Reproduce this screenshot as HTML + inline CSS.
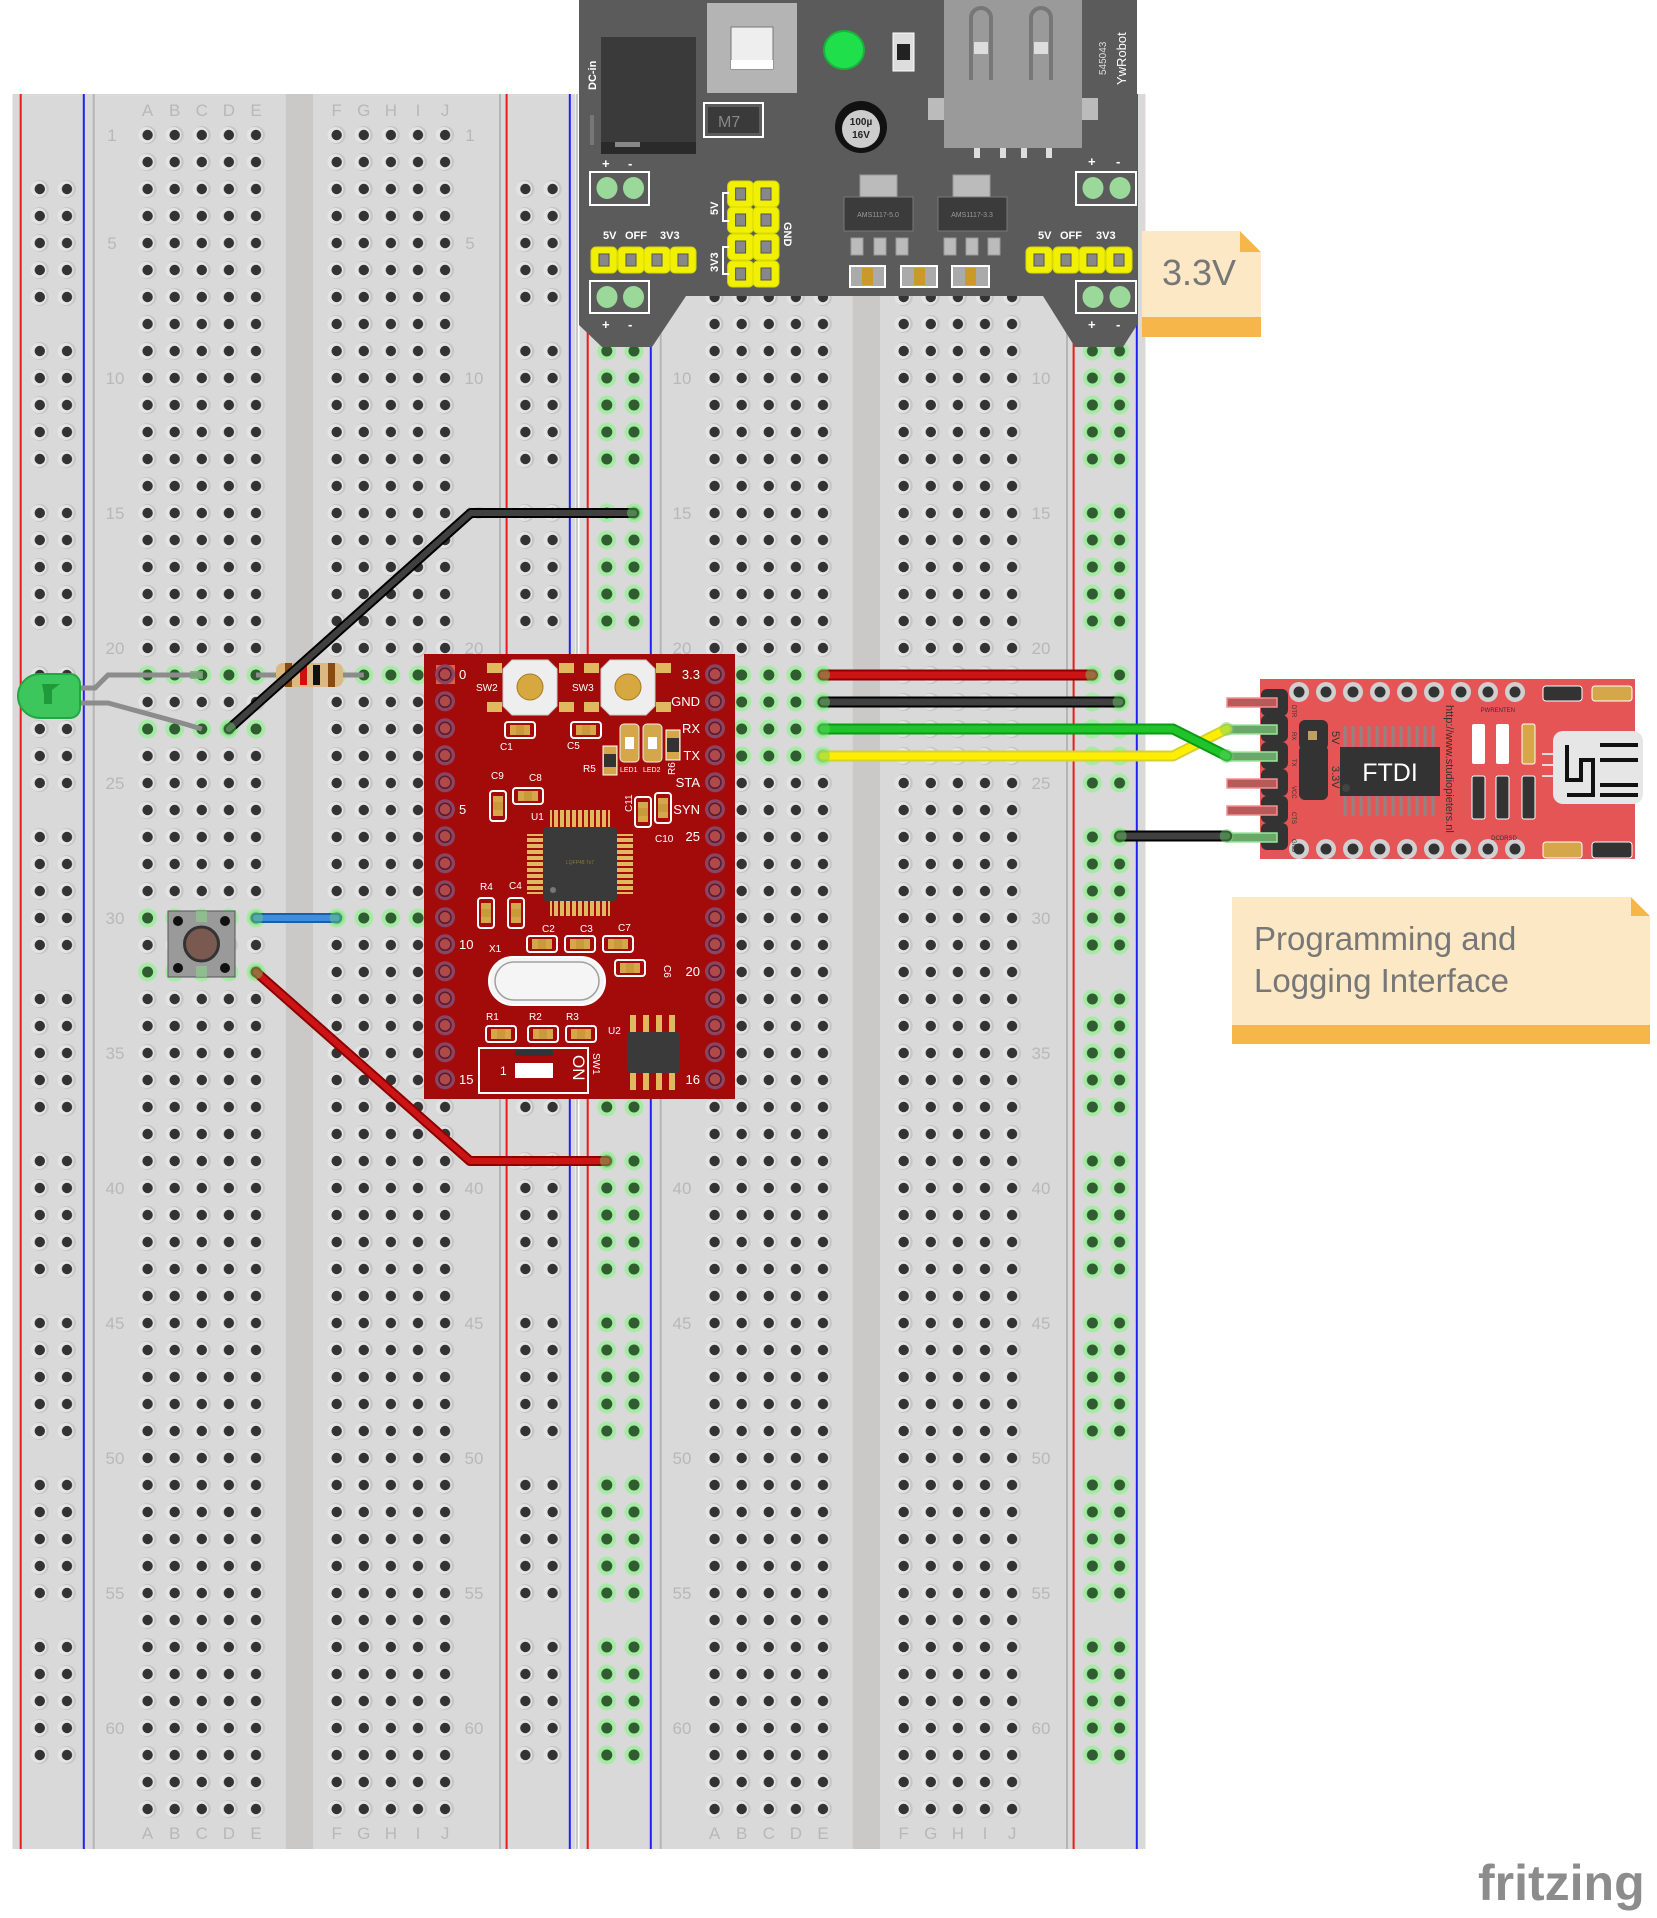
<!DOCTYPE html>
<html><head><meta charset="utf-8"><style>
html,body{margin:0;padding:0;background:#fff;width:1657px;height:1918px;overflow:hidden}
svg{display:block}
text{font-family:"Liberation Sans",sans-serif}
</style></head><body>
<svg width="1657" height="1918" viewBox="0 0 1657 1918" xmlns="http://www.w3.org/2000/svg">
<defs>
<g id="hole"><circle r="9" fill="#c6c6c6"/><circle cx="-1.3" r="8" fill="#e4e4e4"/><circle r="5.2" fill="#333"/></g>
<g id="ghole"><circle r="9.5" fill="#a6eaa6"/><circle r="5.5" fill="#2f5d2f"/></g>
<pattern id="pA1" width="27.1" height="27" patternUnits="userSpaceOnUse" x="134.05" y="121.5"><use href="#hole" x="13.55" y="13.5"/></pattern>
<pattern id="pF1" width="27.1" height="27" patternUnits="userSpaceOnUse" x="323.15" y="121.5"><use href="#hole" x="13.55" y="13.5"/></pattern>
<pattern id="pA2" width="27.1" height="27" patternUnits="userSpaceOnUse" x="701.05" y="121.5"><use href="#hole" x="13.55" y="13.5"/></pattern>
<pattern id="pF2" width="27.1" height="27" patternUnits="userSpaceOnUse" x="890.15" y="121.5"><use href="#hole" x="13.55" y="13.5"/></pattern>
<pattern id="rL1" width="27.2" height="162" patternUnits="userSpaceOnUse" x="26.2" y="175.5"><use href="#hole" x="13.6" y="13.5"/><use href="#hole" x="13.6" y="40.5"/><use href="#hole" x="13.6" y="67.5"/><use href="#hole" x="13.6" y="94.5"/><use href="#hole" x="13.6" y="121.5"/></pattern>
<pattern id="rR1" width="27.2" height="162" patternUnits="userSpaceOnUse" x="511.8" y="175.5"><use href="#hole" x="13.6" y="13.5"/><use href="#hole" x="13.6" y="40.5"/><use href="#hole" x="13.6" y="67.5"/><use href="#hole" x="13.6" y="94.5"/><use href="#hole" x="13.6" y="121.5"/></pattern>
<pattern id="rL2" width="27.2" height="162" patternUnits="userSpaceOnUse" x="593.2" y="175.5"><use href="#ghole" x="13.6" y="13.5"/><use href="#ghole" x="13.6" y="40.5"/><use href="#ghole" x="13.6" y="67.5"/><use href="#ghole" x="13.6" y="94.5"/><use href="#ghole" x="13.6" y="121.5"/></pattern>
<pattern id="rR2" width="27.2" height="162" patternUnits="userSpaceOnUse" x="1078.8" y="175.5"><use href="#ghole" x="13.6" y="13.5"/><use href="#ghole" x="13.6" y="40.5"/><use href="#ghole" x="13.6" y="67.5"/><use href="#ghole" x="13.6" y="94.5"/><use href="#ghole" x="13.6" y="121.5"/></pattern>
<g id="pad"><circle r="10" fill="#8a4565"/><circle r="6" fill="#b04a4a" stroke="#5a1a2a" stroke-width="1.5"/></g>
<g id="ypin"><rect x="-13" y="-13" width="26" height="26" rx="5" fill="#f0f000" stroke="#d8d800"/><rect x="-5" y="-6" width="10" height="12" fill="#888" stroke="#555"/></g>
<g id="fh"><circle r="10" fill="#d0d0d0"/><circle r="5.5" fill="#333"/></g>
<g id="smd"><rect x="-15" y="-8" width="30" height="16" rx="3" fill="none" stroke="#fff" stroke-width="2"/><rect x="-10" y="-5" width="20" height="10" fill="#d4a84a"/><rect x="-4" y="-5" width="8" height="10" fill="#c99a3a"/></g>
</defs>

<!-- Breadboard 1 -->
<rect x="12.5" y="94" width="563" height="1755" fill="#d9d9d9"/>
<rect x="285.8" y="94" width="27.2" height="1755" fill="#cac9c7"/>
<line x1="93.7" y1="94" x2="93.7" y2="1849" stroke="#b5b5b5" stroke-width="2"/>
<line x1="500" y1="94" x2="500" y2="1849" stroke="#b5b5b5" stroke-width="2"/>
<line x1="20.7" y1="94" x2="20.7" y2="1849" stroke="#f01818" stroke-width="2"/>
<line x1="83.8" y1="94" x2="83.8" y2="1849" stroke="#2020f0" stroke-width="2"/>
<line x1="506.6" y1="94" x2="506.6" y2="1849" stroke="#f01818" stroke-width="2"/>
<line x1="569.8" y1="94" x2="569.8" y2="1849" stroke="#2020f0" stroke-width="2"/>
<rect x="134" y="121.5" width="135.5" height="1701" fill="url(#pA1)"/>
<rect x="323.1" y="121.5" width="135.5" height="1701" fill="url(#pF1)"/>
<rect x="26.2" y="175.5" width="54.4" height="1620" fill="url(#rL1)"/>
<rect x="511.8" y="175.5" width="54.4" height="1620" fill="url(#rR1)"/>

<!-- Breadboard 2 -->
<rect x="579.5" y="94" width="566" height="1755" fill="#d9d9d9"/>
<line x1="577" y1="94" x2="577" y2="1849" stroke="#c8c8c8" stroke-width="2"/>
<rect x="852.8" y="94" width="27.2" height="1755" fill="#cac9c7"/>
<line x1="660.7" y1="94" x2="660.7" y2="1849" stroke="#b5b5b5" stroke-width="2"/>
<line x1="1067" y1="94" x2="1067" y2="1849" stroke="#b5b5b5" stroke-width="2"/>
<line x1="587.7" y1="94" x2="587.7" y2="1849" stroke="#f01818" stroke-width="2"/>
<line x1="650.8" y1="94" x2="650.8" y2="1849" stroke="#2020f0" stroke-width="2"/>
<line x1="1073.6" y1="94" x2="1073.6" y2="1849" stroke="#f01818" stroke-width="2"/>
<line x1="1136.8" y1="94" x2="1136.8" y2="1849" stroke="#2020f0" stroke-width="2"/>
<rect x="701" y="121.5" width="135.5" height="1701" fill="url(#pA2)"/>
<rect x="890.1" y="121.5" width="135.5" height="1701" fill="url(#pF2)"/>
<rect x="593.2" y="175.5" width="54.4" height="1620" fill="url(#rL2)"/>
<rect x="1078.8" y="175.5" width="54.4" height="1620" fill="url(#rR2)"/>

<!-- labels -->
<g fill="#b8b8b8" font-size="17" text-anchor="middle">
<text x="147.6" y="116">A</text><text x="174.7" y="116">B</text><text x="201.8" y="116">C</text><text x="228.9" y="116">D</text><text x="256" y="116">E</text>
<text x="336.7" y="116">F</text><text x="363.8" y="116">G</text><text x="390.9" y="116">H</text><text x="418" y="116">I</text><text x="445.1" y="116">J</text>
<text x="147.6" y="1839">A</text><text x="174.7" y="1839">B</text><text x="201.8" y="1839">C</text><text x="228.9" y="1839">D</text><text x="256" y="1839">E</text>
<text x="336.7" y="1839">F</text><text x="363.8" y="1839">G</text><text x="390.9" y="1839">H</text><text x="418" y="1839">I</text><text x="445.1" y="1839">J</text>
<text x="714.6" y="1839">A</text><text x="741.7" y="1839">B</text><text x="768.8" y="1839">C</text><text x="795.9" y="1839">D</text><text x="823" y="1839">E</text>
<text x="903.7" y="1839">F</text><text x="930.8" y="1839">G</text><text x="957.9" y="1839">H</text><text x="985" y="1839">I</text><text x="1012.1" y="1839">J</text>
<text x="112" y="141">1</text><text x="112" y="249">5</text><text x="115" y="384">10</text><text x="115" y="519">15</text><text x="115" y="654">20</text><text x="115" y="789">25</text><text x="115" y="924">30</text><text x="115" y="1059">35</text><text x="115" y="1194">40</text><text x="115" y="1329">45</text><text x="115" y="1464">50</text><text x="115" y="1599">55</text><text x="115" y="1734">60</text>
<text x="470" y="141">1</text><text x="470" y="249">5</text><text x="474" y="384">10</text><text x="474" y="519">15</text><text x="474" y="654">20</text><text x="474" y="789">25</text><text x="474" y="924">30</text><text x="474" y="1059">35</text><text x="474" y="1194">40</text><text x="474" y="1329">45</text><text x="474" y="1464">50</text><text x="474" y="1599">55</text><text x="474" y="1734">60</text>
<text x="682" y="384">10</text><text x="682" y="519">15</text><text x="682" y="654">20</text><text x="682" y="789">25</text><text x="682" y="924">30</text><text x="682" y="1059">35</text><text x="682" y="1194">40</text><text x="682" y="1329">45</text><text x="682" y="1464">50</text><text x="682" y="1599">55</text><text x="682" y="1734">60</text>
<text x="1041" y="384">10</text><text x="1041" y="519">15</text><text x="1041" y="654">20</text><text x="1041" y="789">25</text><text x="1041" y="924">30</text><text x="1041" y="1059">35</text><text x="1041" y="1194">40</text><text x="1041" y="1329">45</text><text x="1041" y="1464">50</text><text x="1041" y="1599">55</text><text x="1041" y="1734">60</text>
</g>

<!-- green highlighted holes -->
<g>
<use href="#ghole" x="147.6" y="675"/><use href="#ghole" x="174.7" y="675"/><use href="#ghole" x="201.8" y="675"/><use href="#ghole" x="228.9" y="675"/><use href="#ghole" x="256" y="675"/>
<use href="#ghole" x="336.7" y="675"/><use href="#ghole" x="363.8" y="675"/><use href="#ghole" x="390.9" y="675"/><use href="#ghole" x="418" y="675"/>
<use href="#ghole" x="147.6" y="729"/><use href="#ghole" x="174.7" y="729"/><use href="#ghole" x="201.8" y="729"/><use href="#ghole" x="228.9" y="729"/><use href="#ghole" x="256" y="729"/>
<use href="#ghole" x="147.6" y="918"/><use href="#ghole" x="174.7" y="918"/><use href="#ghole" x="201.8" y="918"/><use href="#ghole" x="228.9" y="918"/><use href="#ghole" x="256" y="918"/>
<use href="#ghole" x="336.7" y="918"/><use href="#ghole" x="363.8" y="918"/><use href="#ghole" x="390.9" y="918"/><use href="#ghole" x="418" y="918"/>
<use href="#ghole" x="147.6" y="972"/><use href="#ghole" x="174.7" y="972"/><use href="#ghole" x="201.8" y="972"/><use href="#ghole" x="228.9" y="972"/><use href="#ghole" x="256" y="972"/>
<use href="#ghole" x="741.7" y="675"/><use href="#ghole" x="768.8" y="675"/><use href="#ghole" x="795.9" y="675"/><use href="#ghole" x="823" y="675"/>
<use href="#ghole" x="741.7" y="702"/><use href="#ghole" x="768.8" y="702"/><use href="#ghole" x="795.9" y="702"/><use href="#ghole" x="823" y="702"/>
<use href="#ghole" x="741.7" y="729"/><use href="#ghole" x="768.8" y="729"/><use href="#ghole" x="795.9" y="729"/><use href="#ghole" x="823" y="729"/>
<use href="#ghole" x="741.7" y="756"/><use href="#ghole" x="768.8" y="756"/><use href="#ghole" x="795.9" y="756"/><use href="#ghole" x="823" y="756"/>
</g>

<!-- Power module -->
<polygon points="579,0 1137,0 1137,325 1123,347 1075,347 1043,296 686,296 652,347 602,347 579,325" fill="#5b5b5b"/>
<rect x="601" y="37" width="95" height="117" fill="#3a3a3a"/>
<rect x="601" y="142" width="95" height="12" fill="#2a2a2a"/>
<rect x="615" y="142" width="25" height="5" fill="#888"/>
<rect x="590" y="115" width="4" height="30" fill="#777"/>
<text x="0" y="0" transform="translate(596,90) rotate(-90)" fill="#fff" font-size="11" font-weight="bold">DC-in</text>
<rect x="707" y="3" width="90" height="90" fill="#b4b4b4"/>
<rect x="731" y="27" width="42" height="42" fill="#eee" stroke="#777"/>
<rect x="731" y="60" width="42" height="9" fill="#fff"/>
<rect x="704" y="103" width="59" height="34" fill="none" stroke="#fff" stroke-width="2"/>
<rect x="708" y="107" width="51" height="26" fill="#3a3a3a"/>
<text x="718" y="127" fill="#888" font-size="16">M7</text>
<ellipse cx="844" cy="50" rx="20" ry="19" fill="#1fe04a" stroke="#19b23a" stroke-width="2"/>
<rect x="893" y="33" width="21" height="38" fill="#ddd" stroke="#fff"/>
<rect x="897" y="44" width="13" height="16" fill="#222"/>
<circle cx="861" cy="127" r="26" fill="#111"/>
<circle cx="861" cy="129" r="19" fill="#ccc"/>
<text x="861" y="125" fill="#222" font-size="10" text-anchor="middle" font-weight="bold">100µ</text>
<text x="861" y="138" fill="#222" font-size="10" text-anchor="middle" font-weight="bold">16V</text>
<rect x="944" y="0" width="138" height="148" fill="#9a9a9a"/>
<rect x="928" y="98" width="16" height="22" fill="#bbb"/><rect x="1082" y="98" width="16" height="22" fill="#bbb"/>
<path d="M971 80 V18 a10 10 0 0 1 20 0 V80" fill="none" stroke="#777" stroke-width="4"/>
<path d="M1031 80 V18 a10 10 0 0 1 20 0 V80" fill="none" stroke="#777" stroke-width="4"/>
<rect x="974" y="42" width="14" height="12" fill="#ddd"/><rect x="1034" y="42" width="14" height="12" fill="#ddd"/>
<rect x="974" y="148" width="6" height="10" fill="#ddd"/><rect x="1000" y="148" width="6" height="10" fill="#ddd"/><rect x="1021" y="148" width="6" height="10" fill="#ddd"/><rect x="1046" y="148" width="6" height="10" fill="#ddd"/>
<text transform="translate(1106,75) rotate(-90)" fill="#ddd" font-size="10">545043</text>
<text transform="translate(1126,85) rotate(-90)" fill="#fff" font-size="13">YwRobot</text>
<g fill="#fff" font-size="13" font-weight="bold">
<text x="602" y="168">+</text><text x="628" y="168">-</text>
<text x="602" y="329">+</text><text x="628" y="329">-</text>
<text x="1088" y="166">+</text><text x="1116" y="166">-</text>
<text x="1088" y="329">+</text><text x="1116" y="329">-</text>
</g>
<g fill="none" stroke="#fff" stroke-width="2">
<rect x="590" y="172" width="59" height="33"/><rect x="590" y="281" width="59" height="32"/>
<rect x="1076" y="172" width="60" height="33"/><rect x="1076" y="281" width="60" height="32"/>
</g>
<g fill="#9bd99b">
<ellipse cx="607" cy="188" rx="10.5" ry="11"/><ellipse cx="633.5" cy="188" rx="10.5" ry="11"/>
<ellipse cx="607" cy="297" rx="10.5" ry="11"/><ellipse cx="633.5" cy="297" rx="10.5" ry="11"/>
<ellipse cx="1093" cy="188" rx="10.5" ry="11"/><ellipse cx="1120" cy="188" rx="10.5" ry="11"/>
<ellipse cx="1093" cy="297" rx="10.5" ry="11"/><ellipse cx="1120" cy="297" rx="10.5" ry="11"/>
</g>
<g fill="#fff" font-size="11" font-weight="bold">
<text x="603" y="239">5V</text><text x="625" y="239">OFF</text><text x="660" y="239">3V3</text>
<text x="1038" y="239">5V</text><text x="1060" y="239">OFF</text><text x="1096" y="239">3V3</text>
</g>
<use href="#ypin" x="604" y="260"/><use href="#ypin" x="631" y="260"/><use href="#ypin" x="657" y="260"/><use href="#ypin" x="683" y="260"/>
<use href="#ypin" x="1039" y="260"/><use href="#ypin" x="1066" y="260"/><use href="#ypin" x="1092" y="260"/><use href="#ypin" x="1119" y="260"/>
<use href="#ypin" x="740.6" y="194"/><use href="#ypin" x="766" y="194"/><use href="#ypin" x="740.6" y="220"/><use href="#ypin" x="766" y="220"/>
<use href="#ypin" x="740.6" y="247"/><use href="#ypin" x="766" y="247"/><use href="#ypin" x="740.6" y="274"/><use href="#ypin" x="766" y="274"/>
<path d="M729 193 H723 V221 H729 M729 247 H723 V274 H729" fill="none" stroke="#fff" stroke-width="2"/>
<text transform="translate(718,215) rotate(-90)" fill="#fff" font-size="11" font-weight="bold">5V</text>
<text transform="translate(718,272) rotate(-90)" fill="#fff" font-size="11" font-weight="bold">3V3</text>
<text transform="translate(784,222) rotate(90)" fill="#fff" font-size="11" font-weight="bold">GND</text>
<g>
<rect x="860" y="175" width="37" height="22" fill="#bbb" stroke="#999"/><rect x="844" y="197" width="69" height="34" fill="#3b3b3b" stroke="#777"/>
<text x="878" y="217" fill="#999" font-size="7" text-anchor="middle">AMS1117-5.0</text>
<rect x="851" y="238" width="12" height="17" fill="#bbb" stroke="#999"/><rect x="874" y="238" width="12" height="17" fill="#bbb" stroke="#999"/><rect x="896" y="238" width="12" height="17" fill="#bbb" stroke="#999"/>
<rect x="953" y="175" width="37" height="22" fill="#bbb" stroke="#999"/><rect x="938" y="197" width="69" height="34" fill="#3b3b3b" stroke="#777"/>
<text x="972" y="217" fill="#999" font-size="7" text-anchor="middle">AMS1117-3.3</text>
<rect x="944" y="238" width="12" height="17" fill="#bbb" stroke="#999"/><rect x="966" y="238" width="12" height="17" fill="#bbb" stroke="#999"/><rect x="988" y="238" width="12" height="17" fill="#bbb" stroke="#999"/>
<g fill="#aaa" stroke="#fff" stroke-width="2"><rect x="850" y="266" width="35" height="21"/><rect x="901" y="266" width="36" height="21"/><rect x="952" y="266" width="37" height="21"/></g>
<g fill="#c99a2a"><rect x="862" y="268" width="11" height="17"/><rect x="914" y="268" width="11" height="17"/><rect x="965" y="268" width="11" height="17"/></g>
</g>

<!-- Notes -->
<rect x="1142" y="231" width="119" height="106" fill="#fde8c6"/>
<rect x="1142" y="317" width="119" height="20" fill="#f6b64a"/>
<polygon points="1240,231 1261,252 1240,252" fill="#f6b64a"/>
<polygon points="1240,231 1261,231 1261,252" fill="#fff"/>
<text x="1162" y="285" fill="#777" font-size="36">3.3V</text>
<rect x="1232" y="897" width="418" height="147" fill="#fde8c6"/>
<rect x="1232" y="1025" width="418" height="19" fill="#f6b64a"/>
<polygon points="1631,897 1650,916 1631,916" fill="#f6b64a"/>
<polygon points="1631,897 1650,897 1650,916" fill="#fff"/>
<text x="1254" y="950" fill="#777" font-size="33">Programming and</text>
<text x="1254" y="992" fill="#777" font-size="33">Logging Interface</text>
<text x="1478" y="1900" fill="#8c8c8c" font-size="50" font-weight="bold">fritzing</text>

<!-- Red board -->
<rect x="424" y="654" width="311" height="445" fill="#a30b0b"/>
<rect x="436" y="665" width="19" height="19" fill="#e0603a"/>
<g>
<use href="#pad" x="445" y="674.3"/><use href="#pad" x="445" y="701.3"/><use href="#pad" x="445" y="728.3"/><use href="#pad" x="445" y="755.3"/><use href="#pad" x="445" y="782.3"/><use href="#pad" x="445" y="809.3"/><use href="#pad" x="445" y="836.3"/><use href="#pad" x="445" y="863.3"/><use href="#pad" x="445" y="890.3"/><use href="#pad" x="445" y="917.3"/><use href="#pad" x="445" y="944.3"/><use href="#pad" x="445" y="971.3"/><use href="#pad" x="445" y="998.3"/><use href="#pad" x="445" y="1025.3"/><use href="#pad" x="445" y="1052.3"/><use href="#pad" x="445" y="1079.3"/>
<use href="#pad" x="715" y="674.3"/><use href="#pad" x="715" y="701.3"/><use href="#pad" x="715" y="728.3"/><use href="#pad" x="715" y="755.3"/><use href="#pad" x="715" y="782.3"/><use href="#pad" x="715" y="809.3"/><use href="#pad" x="715" y="836.3"/><use href="#pad" x="715" y="863.3"/><use href="#pad" x="715" y="890.3"/><use href="#pad" x="715" y="917.3"/><use href="#pad" x="715" y="944.3"/><use href="#pad" x="715" y="971.3"/><use href="#pad" x="715" y="998.3"/><use href="#pad" x="715" y="1025.3"/><use href="#pad" x="715" y="1052.3"/><use href="#pad" x="715" y="1079.3"/>
</g>
<g fill="#fff" font-size="13">
<text x="459" y="679">0</text><text x="459" y="814">5</text><text x="459" y="949">10</text><text x="459" y="1084">15</text>
<g text-anchor="end"><text x="700" y="679">3.3</text><text x="700" y="706">GND</text><text x="700" y="733">RX</text><text x="700" y="760">TX</text><text x="700" y="787">STA</text><text x="700" y="814">SYN</text><text x="700" y="841">25</text><text x="700" y="976">20</text><text x="700" y="1084">16</text></g>
</g>
<g fill="#fff" font-size="10">
<text x="476" y="691">SW2</text><text x="572" y="691">SW3</text>
<text x="500" y="750">C1</text><text x="567" y="749">C5</text><text x="583" y="772">R5</text>
<text x="491" y="779">C9</text><text x="529" y="781">C8</text><text x="531" y="820">U1</text>
<text x="655" y="842">C10</text><text x="480" y="890">R4</text><text x="509" y="889">C4</text>
<text x="542" y="932">C2</text><text x="580" y="932">C3</text><text x="618" y="931">C7</text><text x="489" y="952">X1</text>
<text x="486" y="1020">R1</text><text x="529" y="1020">R2</text><text x="566" y="1020">R3</text><text x="608" y="1034">U2</text>
</g>
<g fill="#fff" font-size="7"><text x="620" y="772">LED1</text><text x="643" y="772">LED2</text></g>
<text transform="translate(675,775) rotate(-90)" fill="#fff" font-size="10">R6</text>
<text transform="translate(632,812) rotate(-90)" fill="#fff" font-size="10">C11</text>
<text transform="translate(664,965) rotate(90)" fill="#fff" font-size="10">C6</text>
<g>
<rect x="487" y="660" width="88" height="56" fill="none"/>
<rect x="487" y="663" width="15" height="10" fill="#e0b860"/><rect x="559" y="663" width="15" height="10" fill="#e0b860"/><rect x="487" y="702" width="15" height="10" fill="#e0b860"/><rect x="559" y="702" width="15" height="10" fill="#e0b860"/>
<polygon points="512,660 548,660 557,669 557,706 548,715 512,715 503,706 503,669" fill="#eee" stroke="#ccc"/>
<circle cx="530" cy="687" r="13" fill="#d8a840" stroke="#a67a20"/>
<rect x="584" y="663" width="15" height="10" fill="#e0b860"/><rect x="656" y="663" width="15" height="10" fill="#e0b860"/><rect x="584" y="702" width="15" height="10" fill="#e0b860"/><rect x="656" y="702" width="15" height="10" fill="#e0b860"/>
<polygon points="610,660 646,660 655,669 655,706 646,715 610,715 601,706 601,669" fill="#eee" stroke="#ccc"/>
<circle cx="628" cy="687" r="13" fill="#d8a840" stroke="#a67a20"/>
</g>
<use href="#smd" x="520" y="730"/><use href="#smd" x="586" y="730"/>
<use href="#smd" x="528" y="796"/><use href="#smd" x="542" y="944"/><use href="#smd" x="580" y="944"/><use href="#smd" x="618" y="944"/>
<use href="#smd" x="630" y="968"/>
<use href="#smd" x="501" y="1034"/><use href="#smd" x="543" y="1034"/><use href="#smd" x="581" y="1034"/>
<use href="#smd" transform="translate(498,806) rotate(90)"/><use href="#smd" transform="translate(663,808) rotate(90)"/><use href="#smd" transform="translate(643,812) rotate(90)"/>
<use href="#smd" transform="translate(486,913) rotate(90)"/><use href="#smd" transform="translate(516,913) rotate(90)"/>
<g fill="#fff" stroke="#eee"><rect x="620" y="724" width="19" height="38" rx="4" fill="#d4a84a"/><rect x="643" y="724" width="19" height="38" rx="4" fill="#d4a84a"/></g>
<rect x="625" y="737" width="9" height="12" fill="#fff"/><rect x="648" y="737" width="9" height="12" fill="#fff"/>
<rect x="666" y="730" width="14" height="30" fill="#d4a84a" stroke="#fff"/><rect x="667" y="738" width="12" height="14" fill="#333"/>
<rect x="603" y="746" width="14" height="29" fill="#d4a84a" stroke="#fff"/><rect x="604" y="754" width="12" height="13" fill="#333"/>
<g fill="#e0b860">
<rect x="550" y="810" width="60" height="18"/><rect x="550" y="898" width="60" height="18"/><rect x="527" y="834" width="18" height="60"/><rect x="615" y="834" width="18" height="60"/>
</g>
<g stroke="#a30b0b" stroke-width="2">
<path d="M553 810v18M559 810v18M565 810v18M571 810v18M577 810v18M583 810v18M589 810v18M595 810v18M601 810v18M607 810v18"/>
<path d="M553 898v18M559 898v18M565 898v18M571 898v18M577 898v18M583 898v18M589 898v18M595 898v18M601 898v18M607 898v18"/>
<path d="M527 837h18M527 843h18M527 849h18M527 855h18M527 861h18M527 867h18M527 873h18M527 879h18M527 885h18M527 891h18"/>
<path d="M615 837h18M615 843h18M615 849h18M615 855h18M615 861h18M615 867h18M615 873h18M615 879h18M615 885h18M615 891h18"/>
</g>
<rect x="543" y="827" width="74" height="74" rx="4" fill="#3a3a3a"/>
<circle cx="553" cy="890" r="3" fill="#777"/>
<text x="580" y="864" fill="#8a7a30" font-size="5" text-anchor="middle">LQFP48 7x7</text>
<rect x="489" y="957" width="116" height="48" rx="24" fill="#f5f5f5" stroke="#fff" stroke-width="2"/>
<rect x="495" y="962" width="104" height="38" rx="19" fill="none" stroke="#a0a0a0" stroke-width="1.5"/>
<g fill="#e0b860"><rect x="630" y="1015" width="6" height="18"/><rect x="643" y="1015" width="6" height="18"/><rect x="656" y="1015" width="6" height="18"/><rect x="669" y="1015" width="6" height="18"/>
<rect x="630" y="1072" width="6" height="18"/><rect x="643" y="1072" width="6" height="18"/><rect x="656" y="1072" width="6" height="18"/><rect x="669" y="1072" width="6" height="18"/></g>
<rect x="627" y="1032" width="53" height="41" rx="4" fill="#3a3a3a"/>
<rect x="479" y="1048" width="109" height="45" fill="none" stroke="#fff" stroke-width="2"/>
<rect x="515" y="1050" width="38" height="6" fill="#333"/>
<rect x="515" y="1063" width="38" height="15" fill="#fff"/>
<text x="500" y="1075" fill="#fff" font-size="12">1</text>
<text transform="translate(573,1055) rotate(90)" fill="#fff" font-size="17">ON</text>
<text transform="translate(593,1053) rotate(90)" fill="#fff" font-size="10">SW1</text>

<!-- FTDI -->
<rect x="1260" y="679" width="375" height="180" fill="#e55555"/>
<g fill="#333"><rect x="1261" y="689" width="27" height="27" rx="6"/><rect x="1261" y="715" width="27" height="27" rx="6"/><rect x="1261" y="742" width="27" height="27" rx="6"/><rect x="1261" y="769" width="27" height="27" rx="6"/><rect x="1261" y="796" width="27" height="27" rx="6"/><rect x="1261" y="823" width="27" height="27" rx="6"/></g>
<g stroke-width="1.5">
<rect x="1227" y="698" width="50" height="9" fill="#b85a5a" stroke="#f29090"/>
<rect x="1227" y="779" width="50" height="9" fill="#b85a5a" stroke="#f29090"/>
<rect x="1227" y="806" width="50" height="9" fill="#b85a5a" stroke="#f29090"/>
<rect x="1227" y="725" width="50" height="9" fill="#6aa86a" stroke="#9de49d"/>
<rect x="1227" y="752" width="50" height="9" fill="#6aa86a" stroke="#9de49d"/>
<rect x="1227" y="833" width="50" height="9" fill="#6aa86a" stroke="#9de49d"/>
</g>
<g>
<use href="#fh" x="1299" y="692"/><use href="#fh" x="1326" y="692"/><use href="#fh" x="1353" y="692"/><use href="#fh" x="1380" y="692"/><use href="#fh" x="1407" y="692"/><use href="#fh" x="1434" y="692"/><use href="#fh" x="1461" y="692"/><use href="#fh" x="1488" y="692"/><use href="#fh" x="1515" y="692"/>
<use href="#fh" x="1299" y="849"/><use href="#fh" x="1326" y="849"/><use href="#fh" x="1353" y="849"/><use href="#fh" x="1380" y="849"/><use href="#fh" x="1407" y="849"/><use href="#fh" x="1434" y="849"/><use href="#fh" x="1461" y="849"/><use href="#fh" x="1488" y="849"/><use href="#fh" x="1515" y="849"/>
</g>
<g stroke="#888" stroke-width="3">
<path d="M1345 726v90M1353 726v90M1361 726v90M1369 726v90M1377 726v90M1385 726v90M1393 726v90M1401 726v90M1409 726v90M1417 726v90M1425 726v90M1433 726v90"/>
</g>
<rect x="1340" y="747" width="100" height="49" fill="#333"/>
<circle cx="1346" cy="788" r="4" fill="#444"/>
<text x="1390" y="781" fill="#fff" font-size="25" text-anchor="middle">FTDI</text>
<rect x="1299" y="720" width="29" height="30" rx="6" fill="#333"/><rect x="1308" y="731" width="9" height="9" fill="#bfa060"/>
<rect x="1299" y="745" width="29" height="55" rx="6" fill="#333"/>
<text transform="translate(1332,731) rotate(90)" fill="#333" font-size="11">5V</text>
<text transform="translate(1332,766) rotate(90)" fill="#333" font-size="11">3.3V</text>
<text transform="translate(1446,705) rotate(90)" fill="#333" font-size="11">http://www.studiopieters.nl</text>
<g fill="#333" font-size="6">
<text transform="translate(1292,705) rotate(90)">DTR</text><text transform="translate(1292,732) rotate(90)">RX</text><text transform="translate(1292,759) rotate(90)">TX</text><text transform="translate(1292,786) rotate(90)">VCC</text><text transform="translate(1292,812) rotate(90)">CTS</text><text transform="translate(1292,839) rotate(90)">GND</text>
</g>
<g fill="#fff"><rect x="1472" y="724" width="13" height="40" rx="2"/><rect x="1496" y="724" width="13" height="40" rx="2"/></g>
<rect x="1522" y="724" width="13" height="40" rx="2" fill="#d4a84a" stroke="#fff"/>
<g fill="#333" stroke="#fff"><rect x="1472" y="776" width="13" height="43" rx="2"/><rect x="1496" y="776" width="13" height="43" rx="2"/><rect x="1522" y="776" width="13" height="43" rx="2"/></g>
<rect x="1543" y="686" width="39" height="15" rx="3" fill="#333" stroke="#fff"/><rect x="1592" y="686" width="40" height="15" rx="3" fill="#d4a84a" stroke="#fff"/>
<rect x="1543" y="842" width="39" height="16" rx="3" fill="#d4a84a" stroke="#fff"/><rect x="1592" y="842" width="40" height="16" rx="3" fill="#333" stroke="#fff"/>
<g fill="#e55555" stroke="#ddd" stroke-width="2"><path d="M1542 754h12M1542 765h12M1542 776h12"/></g>
<rect x="1553" y="731" width="90" height="73" rx="10" fill="#e6e6e6"/>
<path d="M1567 745v35h14v-20h12v35h-26M1600 745h38M1600 760h38M1600 785h38M1600 795h38" fill="none" stroke="#111" stroke-width="4"/>
<text x="1515" y="712" fill="#333" font-size="6" text-anchor="end">PWRENTEN</text>
<text x="1504" y="840" fill="#333" font-size="6" text-anchor="middle">DCDRSD</text>

<!-- LED -->
<path d="M80 688 H95 L108 675 H201.8" fill="none" stroke="#8c8c8c" stroke-width="5"/>
<path d="M80 703 H108 L185 724 L201.8 729" fill="none" stroke="#8c8c8c" stroke-width="5"/>
<rect x="190" y="671" width="13" height="8" fill="#78a878" opacity="0.8"/>
<path d="M18 696 a22 22 0 0 1 22 -22 h30 a10 10 0 0 1 10 10 v24 a10 10 0 0 1 -10 10 h-30 a22 22 0 0 1 -22 -22z" fill="#3cc65c" stroke="#22a843" stroke-width="2"/>
<path d="M42 684 h18 l-8 6 v14 h-8 v-10z" fill="#1f9a3a"/>

<!-- Resistor -->
<line x1="256" y1="675" x2="363.8" y2="675" stroke="#8c8c8c" stroke-width="5"/>
<rect x="276" y="663" width="67" height="24" rx="7" fill="#dcb982"/>
<rect x="285" y="663" width="7" height="24" fill="#8a4a10"/><rect x="300" y="665" width="7" height="20" fill="#d01010"/><rect x="313" y="665" width="7" height="20" fill="#111"/><rect x="328" y="663" width="7" height="24" fill="#8a4a10"/>

<!-- Button -->
<rect x="168" y="911" width="67" height="66" fill="#9a9a9a" stroke="#555"/>
<circle cx="178" cy="921" r="5" fill="#111"/><circle cx="225" cy="921" r="5" fill="#111"/><circle cx="178" cy="968" r="5" fill="#111"/><circle cx="225" cy="968" r="5" fill="#111"/>
<rect x="196" y="911" width="11" height="11" fill="#8ccc8c" opacity="0.7"/><rect x="196" y="966" width="11" height="11" fill="#8ccc8c" opacity="0.7"/>
<circle cx="201.5" cy="944" r="17" fill="#7a5a50" stroke="#333" stroke-width="3"/>

<!-- Wires -->
<g fill="none" stroke-linecap="round" stroke-linejoin="round">
<polyline points="228.9,729 470.7,513 634,513" stroke="#000" stroke-width="10"/>
<polyline points="228.9,729 470.7,513 634,513" stroke="#404040" stroke-width="6"/>
<polyline points="256,918 336.7,918" stroke="#1b5fa8" stroke-width="10"/>
<polyline points="256,918 336.7,918" stroke="#418dd9" stroke-width="6"/>
<polyline points="256,972 470,1161 606.8,1161" stroke="#8c0000" stroke-width="10"/>
<polyline points="256,972 470,1161 606.8,1161" stroke="#cc1416" stroke-width="6"/>
<polyline points="823,675 1092.4,675" stroke="#8c0000" stroke-width="11"/>
<polyline points="823,675 1092.4,675" stroke="#cc1416" stroke-width="7"/>
<polyline points="823,702 1119.6,702" stroke="#000" stroke-width="11"/>
<polyline points="823,702 1119.6,702" stroke="#404040" stroke-width="7"/>
<polyline points="823,756 1173,756 1226.7,729" stroke="#d6d030" stroke-width="11"/>
<polyline points="823,756 1173,756 1226.7,729" stroke="#ffee00" stroke-width="7"/>
<polyline points="823,729 1173,729 1226.7,756" stroke="#0a9a14" stroke-width="11"/>
<polyline points="823,729 1173,729 1226.7,756" stroke="#1fc42a" stroke-width="7"/>
<polyline points="1119.6,836 1226.7,836" stroke="#000" stroke-width="11"/>
<polyline points="1119.6,836 1226.7,836" stroke="#404040" stroke-width="7"/>
</g>
<g fill="#6ad46a" opacity="0.45">
<circle cx="228.9" cy="729" r="7"/><circle cx="634" cy="513" r="7"/><circle cx="256" cy="918" r="7"/><circle cx="336.7" cy="918" r="7"/><circle cx="256" cy="972" r="7"/><circle cx="606.8" cy="1161" r="7"/>
<circle cx="823" cy="675" r="7"/><circle cx="1092.4" cy="675" r="7"/><circle cx="823" cy="702" r="7"/><circle cx="1119.6" cy="702" r="7"/><circle cx="823" cy="729" r="7"/><circle cx="823" cy="756" r="7"/><circle cx="1226.7" cy="729" r="7"/><circle cx="1226.7" cy="756" r="7"/><circle cx="1119.6" cy="836" r="7"/><circle cx="1226.7" cy="836" r="7"/>
</g>
</svg>
</body></html>
